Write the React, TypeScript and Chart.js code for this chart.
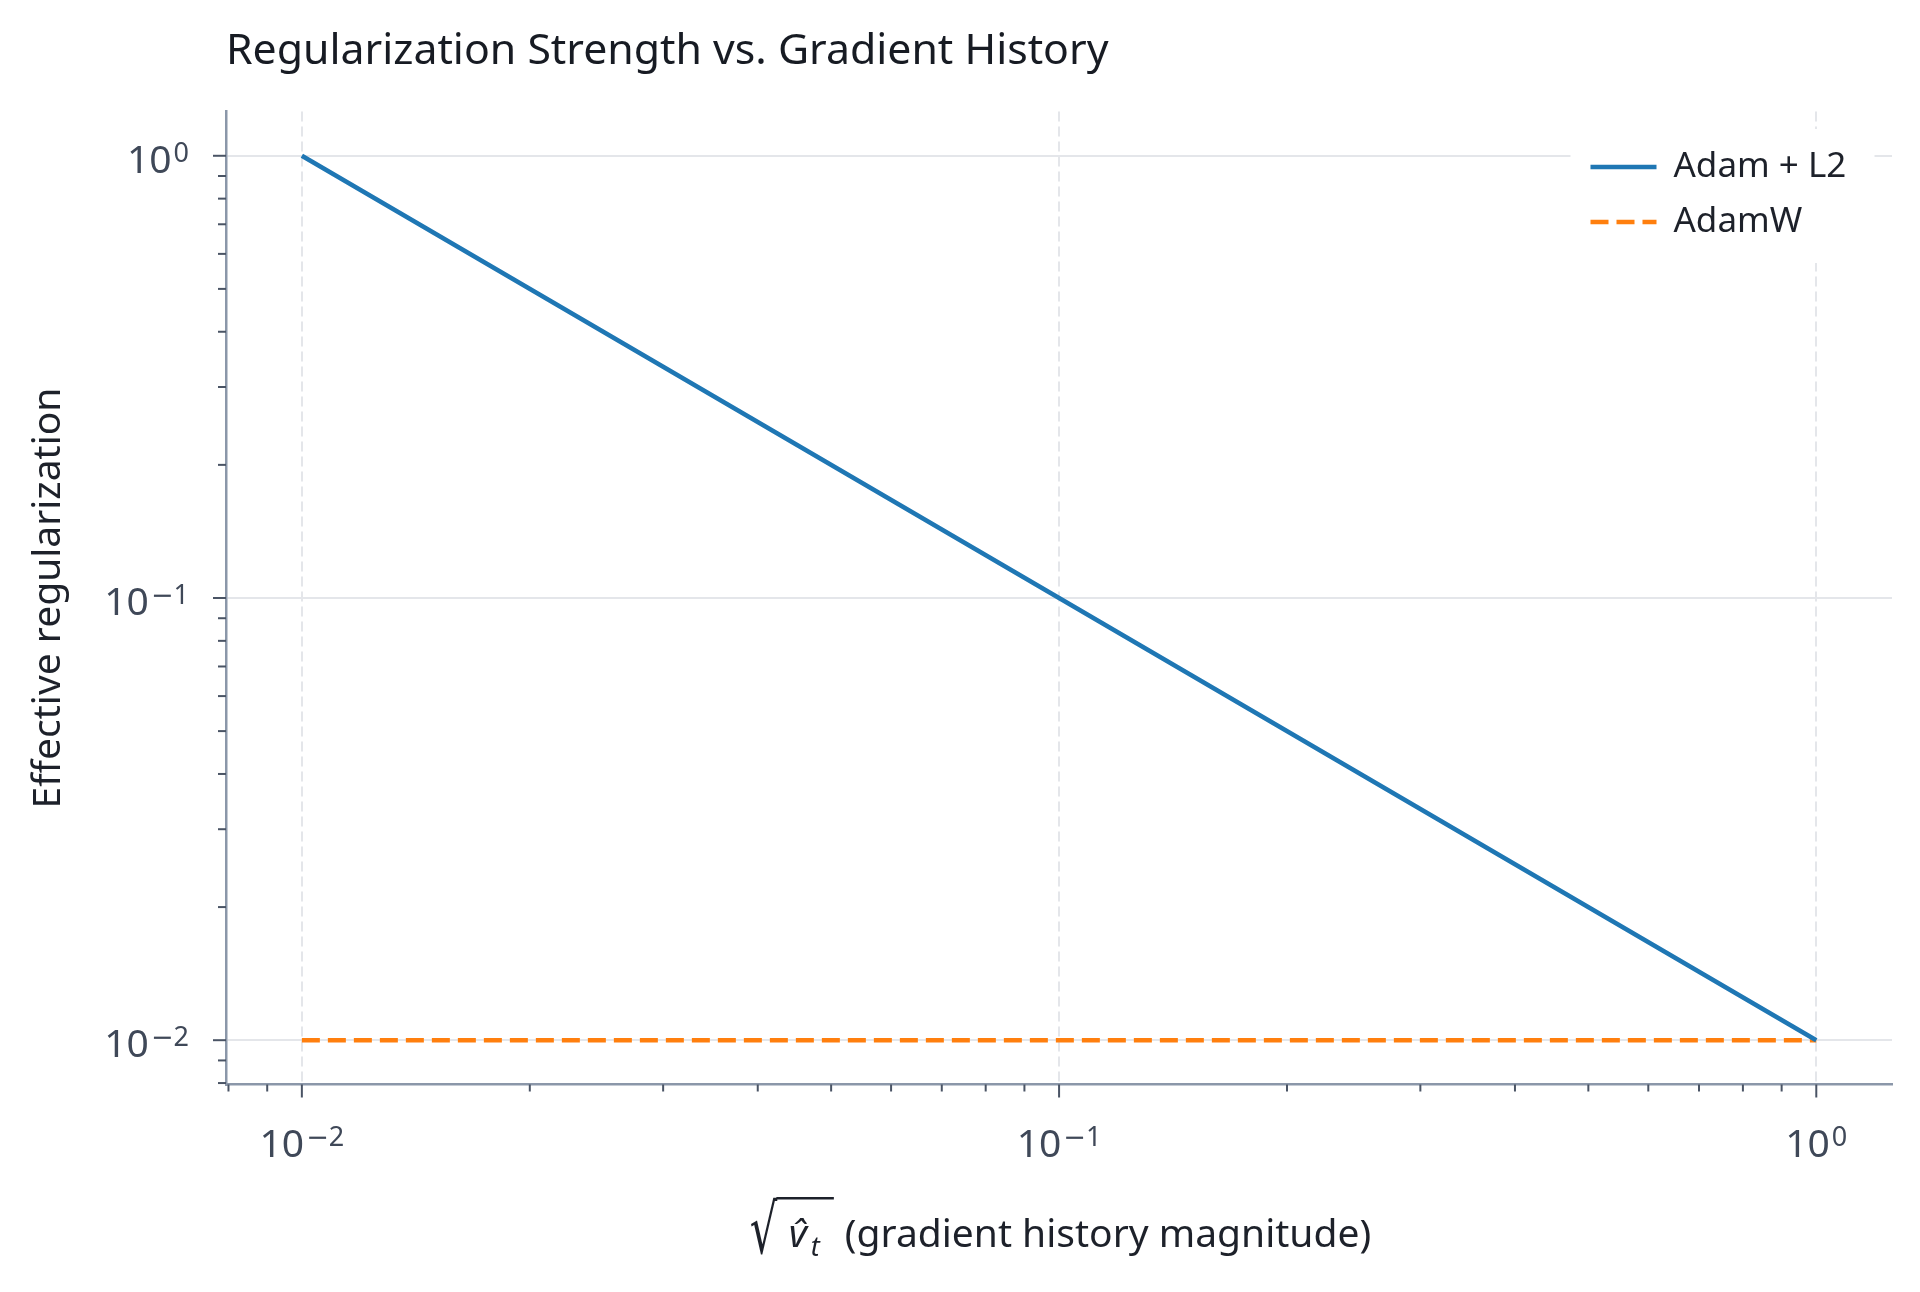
import { useEffect, useRef } from 'react';
import { Chart, registerables } from 'chart.js';

Chart.register(...registerables);

// ---- data ----
const GRAD_MAG = [0.01, 0.1, 1];
const ADAM_L2 = [1, 0.1, 0.01];
const ADAMW = [0.01, 0.01, 0.01];
const SERIES_NAMES = ['Adam + L2', 'AdamW'];

const AXIS_TICKS = [
  0.008, 0.009, 0.01, 0.02, 0.03, 0.04, 0.05, 0.06, 0.07, 0.08, 0.09,
  0.1, 0.2, 0.3, 0.4, 0.5, 0.6, 0.7, 0.8, 0.9, 1,
];
const MAJOR_TICKS = [0.01, 0.1, 1];
const TICK_BASE = '10';
const TICK_EXPONENTS = ['−2', '−1', '0'];
const AXIS_MIN = 0.00794;
const AXIS_MAX = 1.2589;

const TITLE = 'Regularization Strength vs. Gradient History';
const Y_TITLE = 'Effective regularization';
const X_TITLE_VAR = 'v\u0302';
const X_TITLE_SUB = 't';
const X_TITLE_TEXT = '(gradient history magnitude)';

// ---- style ----
const FONT = "'Noto Sans', 'Open Sans', sans-serif";
const MATH_FONT = "'DejaVu Sans'";
const BLUE = '#1f77b4';
const ORANGE = '#ff7f0e';
const TITLE_COLOR = '#171b23';
const LABEL_COLOR = '#1d212a';
const TICK_LABEL_COLOR = '#3f4858';
const AXIS_COLOR = '#8b97a9';
const TICK_COLOR = '#4a5465';
const GRID_COLOR = '#e4e6ea';

const majorIndex = (v: number) =>
  MAJOR_TICKS.findIndex((m) => Math.abs(m - v) / m < 1e-6);
const isMajor = (v: number) => majorIndex(v) >= 0;

function drawPowerLabel(
  ctx: CanvasRenderingContext2D,
  value: number,
  anchorX: number,
  baseY: number,
  align: 'center' | 'right'
) {
  const i = majorIndex(value);
  if (i < 0) return;
  const exp = TICK_EXPONENTS[i];
  const neg = exp.startsWith('−');
  const digits = neg ? exp.slice(1) : exp;
  ctx.font = `39px ${FONT}`;
  const wBase = ctx.measureText(TICK_BASE).width;
  ctx.font = `27px ${MATH_FONT}`;
  const wMinus = neg ? ctx.measureText('−').width : 0;
  ctx.font = `27px ${FONT}`;
  const wDig = ctx.measureText(digits).width;
  const gap = 2;
  const total = wBase + gap + wMinus + wDig;
  let x = align === 'center' ? anchorX - total / 2 : anchorX - total;
  const supY = baseY - 11;
  ctx.textAlign = 'left';
  ctx.textBaseline = 'alphabetic';
  ctx.font = `39px ${FONT}`;
  ctx.fillText(TICK_BASE, x, baseY);
  x += wBase + gap;
  if (neg) {
    ctx.font = `27px ${MATH_FONT}`;
    ctx.fillText('−', x, supY);
    x += wMinus;
  }
  ctx.font = `27px ${FONT}`;
  ctx.fillText(digits, x, supY);
}

const axisDecorPlugin = {
  id: 'axisDecor',
  afterDraw(chart: any) {
    const { ctx, chartArea } = chart;
    const xs = chart.scales.x;
    const ys = chart.scales.y;
    ctx.save();
    // tick marks
    ctx.strokeStyle = TICK_COLOR;
    ctx.lineWidth = 2;
    xs.ticks.forEach((t: any) => {
      const px = xs.getPixelForValue(t.value);
      if (px < chartArea.left - 1 || px > chartArea.right + 1) return;
      const len = isMajor(t.value) ? 13 : 7;
      ctx.beginPath();
      ctx.moveTo(px, chartArea.bottom);
      ctx.lineTo(px, chartArea.bottom + len);
      ctx.stroke();
    });
    ys.ticks.forEach((t: any) => {
      const py = ys.getPixelForValue(t.value);
      if (py < chartArea.top - 1 || py > chartArea.bottom + 1) return;
      const len = isMajor(t.value) ? 13 : 8;
      ctx.beginPath();
      ctx.moveTo(chartArea.left, py);
      ctx.lineTo(chartArea.left - len, py);
      ctx.stroke();
    });
    // tick labels
    ctx.fillStyle = TICK_LABEL_COLOR;
    xs.ticks.forEach((t: any) => {
      if (!isMajor(t.value)) return;
      const px = xs.getPixelForValue(t.value);
      drawPowerLabel(ctx, t.value, px, chartArea.bottom + 72.5, 'center');
    });
    ys.ticks.forEach((t: any) => {
      if (!isMajor(t.value)) return;
      const py = ys.getPixelForValue(t.value);
      drawPowerLabel(ctx, t.value, chartArea.left - 37, py + 17.3, 'right');
    });
    ctx.restore();
  },
};

const xTitlePlugin = {
  id: 'xTitle',
  afterDraw(chart: any) {
    const { ctx, chartArea } = chart;
    const cx = (chartArea.left + chartArea.right) / 2 + 2;
    const base = chartArea.bottom + 162.5;
    ctx.save();
    ctx.fillStyle = LABEL_COLOR;
    ctx.strokeStyle = LABEL_COLOR;
    ctx.textBaseline = 'alphabetic';
    ctx.textAlign = 'left';

    ctx.font = `39px ${FONT}`;
    const wMain = ctx.measureText(X_TITLE_TEXT).width;
    const start = cx - (94 + wMain) / 2;

    // radical sign, fitted into its box
    const radW = 27;
    const radTop = base - 50;
    const radBottom = base + 8;
    ctx.font = `40px ${MATH_FONT}`;
    const m = ctx.measureText('√');
    const inkW = m.actualBoundingBoxLeft + m.actualBoundingBoxRight;
    const inkH = m.actualBoundingBoxAscent + m.actualBoundingBoxDescent;
    const sx = radW / inkW;
    const sy = (radBottom - radTop) / inkH;
    ctx.save();
    ctx.translate(start, radTop);
    ctx.scale(sx, sy);
    ctx.fillText('√', m.actualBoundingBoxLeft, m.actualBoundingBoxAscent);
    ctx.restore();

    // overline
    ctx.lineWidth = 2.4;
    ctx.beginPath();
    ctx.moveTo(start + radW - 1.5, radTop + 1.2);
    ctx.lineTo(start + 83, radTop + 1.2);
    ctx.stroke();

    ctx.font = `italic 39px ${FONT}`;
    ctx.fillText(X_TITLE_VAR, start + 38, base);
    ctx.font = `italic 27px ${FONT}`;
    ctx.fillText(X_TITLE_SUB, start + 60, base + 9);
    ctx.font = `39px ${FONT}`;
    ctx.fillText(X_TITLE_TEXT, start + 94, base);
    ctx.restore();
  },
};

const legendPlugin = {
  id: 'cornerLegend',
  afterDatasetsDraw(chart: any) {
    const { ctx, chartArea } = chart;
    const w = 304;
    const h = 134;
    const right = chartArea.right - 17.5;
    const top = chartArea.top + 17.5;
    const left = right - w;
    ctx.save();
    ctx.fillStyle = '#ffffff';
    ctx.beginPath();
    const r = 7;
    ctx.moveTo(left + r, top);
    ctx.arcTo(right, top, right, top + h, r);
    ctx.arcTo(right, top + h, left, top + h, r);
    ctx.arcTo(left, top + h, left, top, r);
    ctx.arcTo(left, top, right, top, r);
    ctx.closePath();
    ctx.fill();
    chart.data.datasets.forEach((ds: any, i: number) => {
      const y = top + 38 + i * 55;
      ctx.strokeStyle = ds.borderColor;
      ctx.lineWidth = ds.borderWidth;
      ctx.setLineDash(ds.borderDash || []);
      ctx.lineCap = 'butt';
      ctx.beginPath();
      ctx.moveTo(left + 20, y);
      ctx.lineTo(left + 86, y);
      ctx.stroke();
      ctx.setLineDash([]);
      ctx.fillStyle = LABEL_COLOR;
      ctx.font = `35px ${FONT}`;
      ctx.textBaseline = 'middle';
      ctx.textAlign = 'left';
      ctx.fillText(ds.label, left + 103, y);
    });
    ctx.restore();
  },
};

export default function App() {
  const ref = useRef<HTMLCanvasElement | null>(null);

  useEffect(() => {
    document.body.style.margin = '0';
    const canvas = ref.current;
    if (!canvas) return;

    const gridColor = (c: any) =>
      c.tick && isMajor(c.tick.value) ? GRID_COLOR : 'rgba(0,0,0,0)';

    const chart = new Chart(canvas, {
      type: 'line',
      data: {
        datasets: [
          {
            label: SERIES_NAMES[0],
            data: GRAD_MAG.map((x, i) => ({ x, y: ADAM_L2[i] })),
            borderColor: BLUE,
            backgroundColor: BLUE,
            borderWidth: 4.5,
            pointRadius: 0,
            fill: false,
            tension: 0,
          },
          {
            label: SERIES_NAMES[1],
            data: GRAD_MAG.map((x, i) => ({ x, y: ADAMW[i] })),
            borderColor: ORANGE,
            backgroundColor: ORANGE,
            borderWidth: 4.5,
            borderDash: [18, 8],
            pointRadius: 0,
            fill: false,
            tension: 0,
          },
        ],
      },
      options: {
        animation: false,
        responsive: false,
        devicePixelRatio: 1,
        layout: { padding: { left: 0, top: 0, right: 28, bottom: 0 } },
        plugins: {
          legend: { display: false },
          tooltip: { enabled: false },
          title: {
            display: true,
            text: TITLE,
            align: 'start',
            fullSize: false,
            color: TITLE_COLOR,
            font: { family: FONT, size: 42.8, weight: 'normal' },
            padding: { top: 25.8, bottom: 34.4 },
          },
        },
        scales: {
          x: {
            type: 'logarithmic',
            position: 'bottom',
            min: AXIS_MIN,
            max: AXIS_MAX,
            afterBuildTicks: (s: any) => {
              s.ticks = AXIS_TICKS.map((v) => ({ value: v }));
            },
            afterFit: (s: any) => {
              s.height = 207.5;
            },
            ticks: { display: false, autoSkip: false, maxRotation: 0 },
            grid: { color: gridColor, lineWidth: 2, drawTicks: false },
            border: { color: AXIS_COLOR, width: 2.5, dash: [10, 5] },
          },
          y: {
            type: 'logarithmic',
            position: 'left',
            min: AXIS_MIN,
            max: AXIS_MAX,
            afterBuildTicks: (s: any) => {
              s.ticks = AXIS_TICKS.map((v) => ({ value: v }));
            },
            afterFit: (s: any) => {
              s.width = 226;
            },
            ticks: { display: false, autoSkip: false },
            grid: { color: gridColor, lineWidth: 2, drawTicks: false },
            border: { color: AXIS_COLOR, width: 2.5 },
            title: {
              display: true,
              text: Y_TITLE,
              color: LABEL_COLOR,
              font: { family: FONT, size: 39 },
              padding: { top: 25.6, bottom: 0 },
            },
          },
        },
      } as any,
      plugins: [legendPlugin, axisDecorPlugin, xTitlePlugin],
    });

    return () => chart.destroy();
  }, []);

  return (
    <div style={{ width: 1920, height: 1292, background: '#ffffff' }}>
      <canvas ref={ref} width={1920} height={1292} style={{ display: 'block' }} />
    </div>
  );
}
